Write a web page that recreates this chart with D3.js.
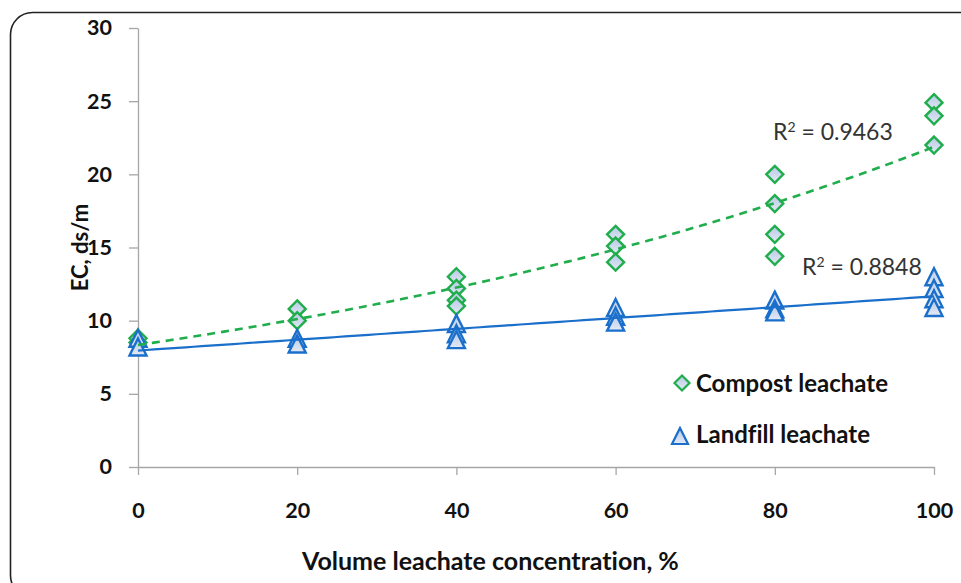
<!DOCTYPE html>
<html>
<head>
<meta charset="utf-8">
<script src="https://cdn.jsdelivr.net/npm/d3@7"></script>
<style>
  html, body { margin: 0; padding: 0; background: #ffffff; }
  svg { display: block; }
  text { font-variant-ligatures: none; font-feature-settings: "liga" 0, "dlig" 0; }
</style>
</head>
<body>
<svg id="chart" width="961" height="583"></svg>
<script>
// Electrical conductivity of leachate mixtures
const compostX  = [0, 0, 20, 20, 40, 40, 40, 40, 60, 60, 60, 80, 80, 80, 80, 100, 100, 100];
const compostEC = [8.8, 8.5, 10.8, 10.0, 13.0, 12.2, 11.4, 11.0, 15.9, 15.1, 14.0, 20.0, 18.0, 15.9, 14.4, 24.9, 24.0, 22.0];
const landfillX  = [0, 0, 20, 20, 40, 40, 40, 60, 60, 60, 80, 80, 80, 100, 100, 100, 100];
const landfillEC = [8.7, 8.1, 8.7, 8.3, 9.7, 9.0, 8.6, 10.8, 10.2, 9.8, 11.3, 10.7, 10.5, 12.9, 12.1, 11.4, 10.8];
const xTicks = [0, 20, 40, 60, 80, 100];
const yTicks = [0, 5, 10, 15, 20, 25, 30];
const seriesNames = ["Compost leachate", "Landfill leachate"];
const r2Labels = ["0.9463", "0.8848"];

const svg = d3.select("#chart");
const font = "Lato, 'Open Sans', sans-serif";

// outer rounded frame
svg.append("rect")
  .attr("x", 10.5).attr("y", 12.5)
  .attr("width", 1000).attr("height", 585)
  .attr("rx", 22).attr("ry", 22)
  .attr("fill", "#ffffff")
  .attr("stroke", "#222").attr("stroke-width", 1.6);

const x = d3.scaleLinear().domain([0, 100]).range([138, 934]);
const y = d3.scaleLinear().domain([0, 30]).range([467, 28]);

// marker gradient
const defs = svg.append("defs");
const grad = defs.append("linearGradient").attr("id", "mk").attr("x1", 0).attr("y1", 0).attr("x2", 0).attr("y2", 1);
grad.append("stop").attr("offset", "0%").attr("stop-color", "#b7c8e6");
grad.append("stop").attr("offset", "100%").attr("stop-color", "#e4eaf5");

// axes
const axisColor = "#a6a6a6";
const gy = svg.append("g").attr("transform", `translate(${x(0)},0)`)
  .call(d3.axisLeft(y).tickValues(yTicks).tickSize(9).tickSizeOuter(0).tickPadding(17));
const gx = svg.append("g").attr("transform", `translate(0,${y(0)})`)
  .call(d3.axisBottom(x).tickValues(xTicks).tickSize(8).tickSizeOuter(0).tickPadding(26));
[gx, gy].forEach(g => {
  g.select(".domain").attr("stroke", axisColor).attr("stroke-width", 1.3);
  g.selectAll(".tick line").attr("stroke", axisColor).attr("stroke-width", 1.3);
  g.selectAll(".tick text").attr("fill", "#111").attr("font-family", font)
    .attr("font-weight", "bold").attr("font-size", 21.5);
});
gx.selectAll(".tick text").attr("dy", 0).attr("y", 51);

// axis titles
svg.append("text").attr("x", 302).attr("y", 570).attr("text-anchor", "start")
  .attr("font-family", font).attr("font-weight", "bold").attr("font-size", 25).attr("fill", "#111")
  .text("Volume leachate concentration, %");
svg.append("text").attr("transform", `translate(88,${y(15)}) rotate(-90)`).attr("text-anchor", "middle")
  .attr("font-family", font).attr("font-weight", "bold").attr("font-size", 22).attr("fill", "#111")
  .text("EC, ds/m");

// regressions
function linFit(xs, ys) {
  const mx = d3.mean(xs), my = d3.mean(ys);
  let sxy = 0, sxx = 0;
  xs.forEach((v, i) => { sxy += (v - mx) * (ys[i] - my); sxx += (v - mx) * (v - mx); });
  const b = sxy / sxx;
  return { a: my - b * mx, b };
}
const expCoef = linFit(compostX, compostEC.map(Math.log));
const linCoef = linFit(landfillX, landfillEC);
const trendXs = d3.range(0, 100.01, 1);

const diamond = "M0,-8.5L8.5,0L0,8.5L-8.5,0Z";
const triangle = "M0,-10L8.5,7L-8.5,7Z";

// markers
svg.append("g").selectAll("path").data(compostX).join("path")
  .attr("d", diamond)
  .attr("transform", (d, i) => `translate(${x(d)},${y(compostEC[i])})`)
  .attr("fill", "url(#mk)").attr("stroke", "#1fae4b").attr("stroke-width", 2.4);
svg.append("g").selectAll("path").data(landfillX).join("path")
  .attr("d", triangle)
  .attr("transform", (d, i) => `translate(${x(d)},${y(landfillEC[i])})`)
  .attr("fill", "url(#mk)").attr("stroke", "#1a6fcb").attr("stroke-width", 2.4);

// trend lines
const line = d3.line().x(d => x(d[0])).y(d => y(d[1]));
svg.append("path")
  .datum(trendXs.map(v => [v, Math.exp(expCoef.a + expCoef.b * v)]))
  .attr("d", line).attr("fill", "none")
  .attr("stroke", "#1fae4b").attr("stroke-width", 2.6).attr("stroke-dasharray", "8,6");
svg.append("path")
  .datum(trendXs.map(v => [v, linCoef.a + linCoef.b * v]))
  .attr("d", line).attr("fill", "none")
  .attr("stroke", "#1a6fcb").attr("stroke-width", 2.2);

// R² labels
function r2(xp, yp, val) {
  const t = svg.append("text").attr("x", xp).attr("y", yp)
    .attr("font-family", font).attr("font-size", 23).attr("fill", "#333");
  t.append("tspan").text("R");
  t.append("tspan").attr("dy", -8).attr("font-size", 14).text("2");
  t.append("tspan").attr("dy", 8).text(" = " + val);
}
r2(773, 140, r2Labels[0]);
r2(802, 275, r2Labels[1]);

// legend
const lg = svg.append("g");
lg.append("path").attr("d", "M0,-7.5L7.5,0L0,7.5L-7.5,0Z").attr("transform", "translate(682,383)")
  .attr("fill", "url(#mk)").attr("stroke", "#1fae4b").attr("stroke-width", 2.2);
lg.append("path").attr("d", "M0,-9L8,7L-8,7Z").attr("transform", "translate(680,437)")
  .attr("fill", "url(#mk)").attr("stroke", "#1a6fcb").attr("stroke-width", 2.2);
lg.selectAll("text").data(seriesNames).join("text")
  .attr("x", 696).attr("y", (d, i) => 392 + i * 51)
  .attr("font-family", font).attr("font-weight", "bold").attr("font-size", 24).attr("fill", "#111")
  .text(d => d);
</script>
</body>
</html>
